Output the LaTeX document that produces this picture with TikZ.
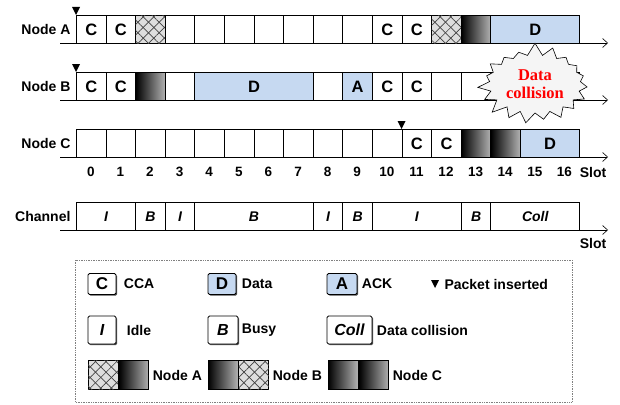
\documentclass[tikz,border=0pt]{standalone}
\usepackage{fontspec}
\setmainfont{Liberation Sans}
\newfontfamily\burstfont{Liberation Serif}
\usetikzlibrary{arrows.meta, positioning, calc, patterns.meta, shapes.symbols, shadows}
\definecolor{bleuclair}{RGB}{198,217,241}
\definecolor{grisfond}{RGB}{222,222,222}
\tikzset{
  slot/.style={draw, line width=0.9pt, fill=white, anchor=north west, inner sep=0pt,
    minimum height=28pt, font=\bfseries\fontsize{16.5}{16.5}\selectfont},
  dat/.style={slot, fill=bleuclair},
  hatch/.style={slot, fill=grisfond,
    postaction={pattern={Lines[angle=45,distance=7.5pt,line width=0.7pt]}, pattern color=black!75},
    postaction={pattern={Lines[angle=-45,distance=7.5pt,line width=0.7pt]}, pattern color=black!75}},
  grad/.style={slot, left color=black, right color=black!30},
  chan/.style={slot, font=\bfseries\itshape\fontsize{14}{14}\selectfont},
  lab/.style={font=\bfseries\fontsize{14}{16}\selectfont},
  axis/.style={line width=0.6pt, -{Straight Barb[length=5pt,width=9pt]}},
  key/.style={draw, line width=0.9pt, rounded corners=1.5pt, fill=white, inner sep=0pt,
    minimum width=28pt, font=\bfseries\fontsize{17}{17}\selectfont,
    drop shadow={shadow xshift=1.2pt, shadow yshift=-1.2pt, opacity=1, fill=black!70}},
}
\begin{document}
\begin{tikzpicture}[x=1pt, y=-1pt]
\useasboundingbox (0,0) rectangle (620,404);

% Node A
\begin{scope}[shift={(0,15)}]
  \coordinate (axA0) at (60,28);
  \coordinate (axA1) at (608,28);
  \draw[axis] (axA0) -- (axA1);
  \node[lab, anchor=east] (labA) at (74,14) {Node A};
  \foreach \k/\n/\t/\s in {0/1/C/slot, 1/1/C/slot, 2/1//hatch, 3/1//slot, 4/1//slot,
      5/1//slot, 6/1//slot, 7/1//slot, 8/1//slot, 9/1//slot, 10/1/C/slot, 11/1/C/slot,
      12/1//hatch, 13/1//grad, 14/3/D/dat}
    \node[\s, minimum width={\n*29.6pt}] (a\k) at ({76+29.6*\k},0) {\t};
  \fill (a0.north west) -- ++(-4,-8) -- ++(8,0) -- cycle;
\end{scope}

% Node B
\begin{scope}[shift={(0,72)}]
  \coordinate (axB0) at (60,28);
  \coordinate (axB1) at (608,28);
  \draw[axis] (axB0) -- (axB1);
  \node[lab, anchor=east] (labB) at (74,14) {Node B};
  \foreach \k/\n/\t/\s in {0/1/C/slot, 1/1/C/slot, 2/1//grad, 3/1//slot, 4/4/D/dat,
      8/1//slot, 9/1/A/dat, 10/1/C/slot, 11/1/C/slot, 12/1//slot, 13/1//slot,
      14/1//slot, 15/1//slot, 16/1//slot}
    \node[\s, minimum width={\n*29.6pt}] (b\k) at ({76+29.6*\k},0) {\t};
  \fill (b0.north west) -- ++(-4,-8) -- ++(8,0) -- cycle;
\end{scope}

% Node C
\begin{scope}[shift={(0,129)}]
  \coordinate (axC0) at (60,28);
  \coordinate (axC1) at (608,28);
  \draw[axis] (axC0) -- (axC1);
  \node[lab, anchor=east] (labC) at (74,14) {Node C};
  \foreach \k in {0,...,10}
    \node[slot, minimum width=29.6pt] (c\k) at ({76+29.6*\k},0) {};
  \foreach \k/\n/\t/\s in {11/1/C/slot, 12/1/C/slot, 13/1//grad, 14/1//grad, 15/2/D/dat}
    \node[\s, minimum width={\n*29.6pt}] (c\k) at ({76+29.6*\k},0) {\t};
  \fill (c11.north west) -- ++(-4,-8) -- ++(8,0) -- cycle;
\end{scope}

% numeros de slot
\foreach \k in {0,...,16}
  \node[font=\bfseries\fontsize{13.5}{15}\selectfont] (n\k) at ({76+29.6*(\k+0.5)},172) {\k};
\node[lab] (slotC) at (593,172) {Slot};

% Channel
\begin{scope}[shift={(0,202)}]
  \coordinate (axCh0) at (60,28);
  \coordinate (axCh1) at (608,28);
  \draw[axis] (axCh0) -- (axCh1);
  \node[lab, anchor=east] (labCh) at (74,14) {Channel};
  \foreach \k/\n/\t in {0/2/I, 2/1/B, 3/1/I, 4/4/B, 8/1/I, 9/1/B, 10/3/I, 13/1/B, 14/3/Coll}
    \node[chan, minimum width={\n*29.6pt}] (ch\k) at ({76+29.6*\k},0) {\t};
\end{scope}
\node[lab] (slotCh) at (593,243) {Slot};

% collision
\node[starburst, draw, fill=gray!8, line width=0.6pt, minimum width=86pt, minimum height=84pt,
  starburst point height=13pt, starburst points=19, random starburst=7, text=red, align=center,
  font=\burstfont\bfseries\fontsize{16.5}{18.5}\selectfont] (burst) at (535,84) {Data\\collision};

% legende
\draw[gray, densely dotted, line width=0.7pt] (75,260) rectangle (572,402);
\node[key, minimum height=21pt] (kC) at (102,284) {C};
\node[lab, right=4pt of kC] (tC) {CCA};
\node[key, minimum height=21pt, fill=bleuclair] (kD) at (222,284) {D};
\node[lab, right=2pt of kD] (tD) {Data};
\node[key, minimum height=21pt, minimum width=30pt, fill=bleuclair] (kA) at (342,284) {A};
\node[lab, right=1pt of kA] (tA) {ACK};
\coordinate (kP) at (435,284);
\fill ($(kP)+(-4,-4)$) -- ++(8,0) -- ++(-4,8) -- cycle;
\node[lab, anchor=west] (tP) at (441,284) {Packet inserted};

\node[key, minimum height=28pt, font=\bfseries\itshape\fontsize{16}{16}\selectfont] (kI) at (102,330) {I};
\node[lab, right=7pt of kI] (tI) {Idle};
\node[key, minimum height=28pt, minimum width=30pt, font=\bfseries\itshape\fontsize{16}{16}\selectfont] (kB) at (223,330) {B};
\node[lab, right=0pt of kB] (tB) {Busy};
\node[key, minimum height=28pt, minimum width=45pt, font=\bfseries\itshape\fontsize{16}{16}\selectfont] (kColl) at (349.5,330) {Coll};
\node[lab, right=1pt of kColl] (tColl) {Data collision};

\node[hatch, anchor=center, minimum width=30pt, minimum height=29pt] (kA1) at (103,375) {};
\node[grad, anchor=west, minimum width=30pt, minimum height=29pt] (kA2) at (kA1.east) {};
\node[lab, right=0pt of kA2] (tNA) {Node A};
\node[grad, anchor=center, minimum width=30pt, minimum height=29pt] (kB1) at (223,375) {};
\node[hatch, anchor=west, minimum width=30pt, minimum height=29pt] (kB2) at (kB1.east) {};
\node[lab, right=0pt of kB2] (tNB) {Node B};
\node[grad, anchor=center, minimum width=30pt, minimum height=29pt] (kC1) at (343,375) {};
\node[grad, anchor=west, minimum width=30pt, minimum height=29pt] (kC2) at (kC1.east) {};
\node[lab, right=0pt of kC2] (tNC) {Node C};
\end{tikzpicture}
\end{document}
